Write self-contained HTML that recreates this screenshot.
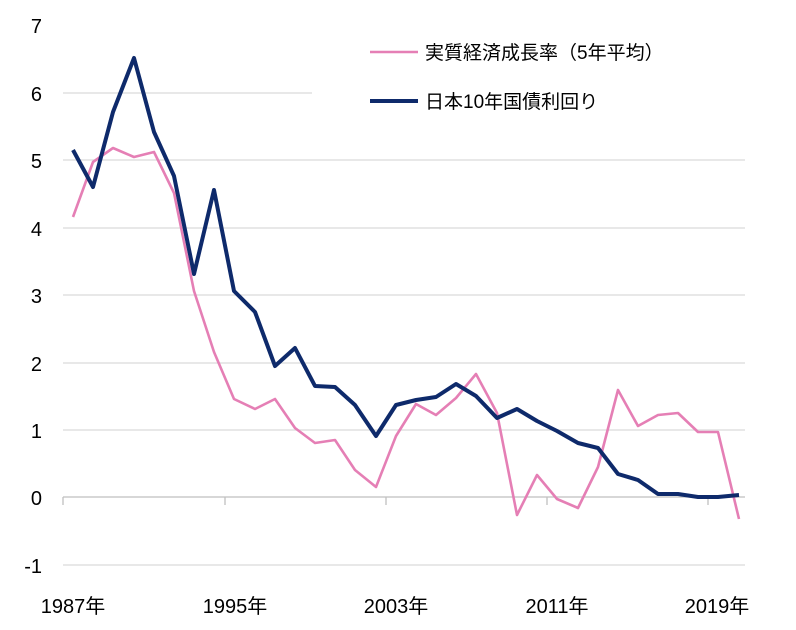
<!DOCTYPE html>
<html><head><meta charset="utf-8"><style>body{margin:0;background:#fff}svg{display:block}</style></head><body>
<svg width="796" height="630" xmlns="http://www.w3.org/2000/svg" font-family="'Liberation Sans','Noto Sans CJK JP',sans-serif">
<g stroke="#d9d9d9" stroke-width="1.3">
<line x1="63" x2="312" y1="93" y2="93"/>
<line x1="63" x2="745" y1="160" y2="160"/>
<line x1="63" x2="745" y1="228" y2="228"/>
<line x1="63" x2="745" y1="295" y2="295"/>
<line x1="63" x2="745" y1="363" y2="363"/>
<line x1="63" x2="745" y1="430" y2="430"/>
<line x1="63" x2="745" y1="565" y2="565"/>
</g>
<g stroke="#bfbfbf" stroke-width="1.3">
<line x1="63" x2="745" y1="497" y2="497"/>
<line x1="63" x2="63" y1="497" y2="505"/><line x1="225" x2="225" y1="497" y2="505"/><line x1="386" x2="386" y1="497" y2="505"/><line x1="547" x2="547" y1="497" y2="505"/><line x1="708" x2="708" y1="497" y2="505"/>
</g>
<g font-size="20" fill="#000" text-anchor="end">
<text x="42" y="33">7</text><text x="42" y="101">6</text><text x="42" y="168">5</text><text x="42" y="236">4</text><text x="42" y="303">3</text><text x="42" y="371">2</text><text x="42" y="438">1</text><text x="42" y="505">0</text><text x="42" y="573">-1</text>
</g>
<g font-size="20" fill="#000" text-anchor="middle">
<text x="73" y="613">1987年</text><text x="235" y="613">1995年</text><text x="396" y="613">2003年</text><text x="557" y="613">2011年</text><text x="717" y="613">2019年</text>
</g>
<polyline fill="none" stroke="#e57fb5" stroke-width="2.6" stroke-linejoin="round" points="73,217 93,162 113,148 134,157 154,152 174,193 194,291 214,352 234,399 255,409 275,399 295,428 315,443 335,440 355,470 376,487 396,436 416,404 436,415 456,398 476,374 497,413 517,515 537,475 557,499 578,508 598,467 618,390 638,426 658,415 678,413 698,432 718,432 739,519"/>
<polyline fill="none" stroke="#0e2a6b" stroke-width="4" stroke-linejoin="round" points="73,150 93,187 113,112 134,58 154,132 174,176 194,274 214,190 234,291 255,312 275,366 295,348 315,386 335,387 355,405 376,436 396,405 416,400 436,397 456,384 476,396 497,418 517,409 537,421 557,431 578,443 598,448 618,474 638,480 658,494 678,494 698,497 718,497 739,495"/>
<line x1="370" x2="418" y1="52" y2="52" stroke="#e57fb5" stroke-width="2.6"/>
<text x="425" y="59" font-size="19" fill="#000">実質経済成長率（5年平均）</text>
<line x1="370" x2="418" y1="101" y2="101" stroke="#0e2a6b" stroke-width="4"/>
<text x="425" y="108" font-size="19" fill="#000">日本10年国債利回り</text>
</svg>
</body></html>
